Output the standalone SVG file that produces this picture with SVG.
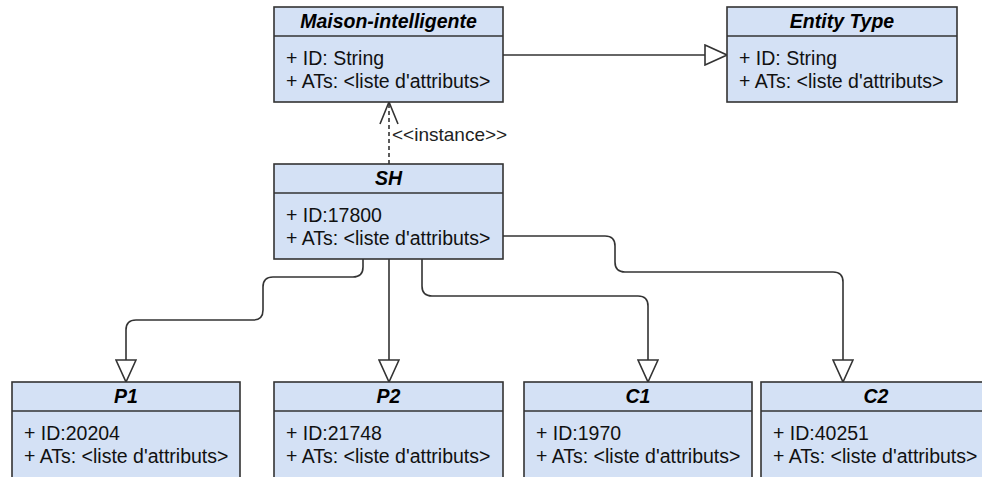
<svg xmlns="http://www.w3.org/2000/svg" width="982" height="477" viewBox="0 0 982 477">
<style>
.box{fill:#D4E1F5;stroke:#333;stroke-width:1.6}
.div{stroke:#333;stroke-width:1.6}
.t{font-family:"Liberation Sans",Arial,sans-serif;font-size:19.5px;font-weight:bold;font-style:italic;fill:#000;text-anchor:middle}
.a{font-family:"Liberation Sans",Arial,sans-serif;font-size:19.5px;fill:#111}
.c{fill:none;stroke:#333;stroke-width:1.6}
.lbl{font-family:"Liberation Sans",Arial,sans-serif;font-size:19px;fill:#222}
</style>
<defs>
<marker id="tri" markerUnits="userSpaceOnUse" markerWidth="24" markerHeight="22" refX="22" refY="10" orient="auto" viewBox="-1 -1 24 22">
<path d="M0,0 L22,10 L0,20 Z" fill="#fff" stroke="#333" stroke-width="1.6"/>
</marker>
<marker id="open" markerUnits="userSpaceOnUse" markerWidth="24" markerHeight="22" refX="22" refY="9" orient="auto" viewBox="-1 -1 24 22">
<path d="M0,0 L22,9 L0,18" fill="none" stroke="#333" stroke-width="1.6"/>
</marker>
</defs>
<g id="connectors">
<path class="c" d="M503 55 H727" marker-end="url(#tri)"/>
<path class="c" d="M389 164 V102" stroke-dasharray="4 3" marker-end="url(#open)"/>
<path class="c" d="M363 259 V267 Q363 277 353 277 H273 Q263 277 263 287 V310 Q263 320 253 320 H136 Q126 320 126 330 V382" marker-end="url(#tri)"/>
<path class="c" d="M389 259 V382" marker-end="url(#tri)"/>
<path class="c" d="M422 259 V286 Q422 296 432 296 H638 Q648 296 648 306 V382" marker-end="url(#tri)"/>
<path class="c" d="M503 236 H605 Q615 236 615 246 V262 Q615 272 625 272 H833 Q843 272 843 282 V382" marker-end="url(#tri)"/>
<text class="lbl" x="392" y="141">&lt;&lt;instance&gt;&gt;</text>
</g>
<g id="maison">
<rect class="box" x="274" y="7" width="229" height="95"/>
<line class="div" x1="274" y1="36" x2="503" y2="36"/>
<text class="t" x="388.5" y="28">Maison-intelligente</text>
<text class="a" x="286" y="65">+ ID: String</text>
<text class="a" x="286" y="88">+ ATs: &lt;liste d'attributs&gt;</text>
</g>
<g id="entity">
<rect class="box" x="727" y="7" width="230" height="95"/>
<line class="div" x1="727" y1="36" x2="957" y2="36"/>
<text class="t" x="842" y="28">Entity Type</text>
<text class="a" x="739" y="65">+ ID: String</text>
<text class="a" x="739" y="88">+ ATs: &lt;liste d'attributs&gt;</text>
</g>
<g id="sh">
<rect class="box" x="274" y="164" width="229" height="95"/>
<line class="div" x1="274" y1="193" x2="503" y2="193"/>
<text class="t" x="388.5" y="185">SH</text>
<text class="a" x="286" y="222">+ ID:17800</text>
<text class="a" x="286" y="245">+ ATs: &lt;liste d'attributs&gt;</text>
</g>
<g id="p1">
<rect class="box" x="12" y="382" width="228" height="110"/>
<line class="div" x1="12" y1="411" x2="240" y2="411"/>
<text class="t" x="126" y="403">P1</text>
<text class="a" x="24" y="440">+ ID:20204</text>
<text class="a" x="24" y="463">+ ATs: &lt;liste d'attributs&gt;</text>
</g>
<g id="p2">
<rect class="box" x="274" y="382" width="229" height="110"/>
<line class="div" x1="274" y1="411" x2="503" y2="411"/>
<text class="t" x="388.5" y="403">P2</text>
<text class="a" x="286" y="440">+ ID:21748</text>
<text class="a" x="286" y="463">+ ATs: &lt;liste d'attributs&gt;</text>
</g>
<g id="c1">
<rect class="box" x="524" y="382" width="228" height="110"/>
<line class="div" x1="524" y1="411" x2="752" y2="411"/>
<text class="t" x="638" y="403">C1</text>
<text class="a" x="536" y="440">+ ID:1970</text>
<text class="a" x="536" y="463">+ ATs: &lt;liste d'attributs&gt;</text>
</g>
<g id="c2">
<rect class="box" x="761" y="382" width="230" height="110"/>
<line class="div" x1="761" y1="411" x2="991" y2="411"/>
<text class="t" x="876" y="403">C2</text>
<text class="a" x="773" y="440">+ ID:40251</text>
<text class="a" x="773" y="463">+ ATs: &lt;liste d'attributs&gt;</text>
</g>
</svg>
